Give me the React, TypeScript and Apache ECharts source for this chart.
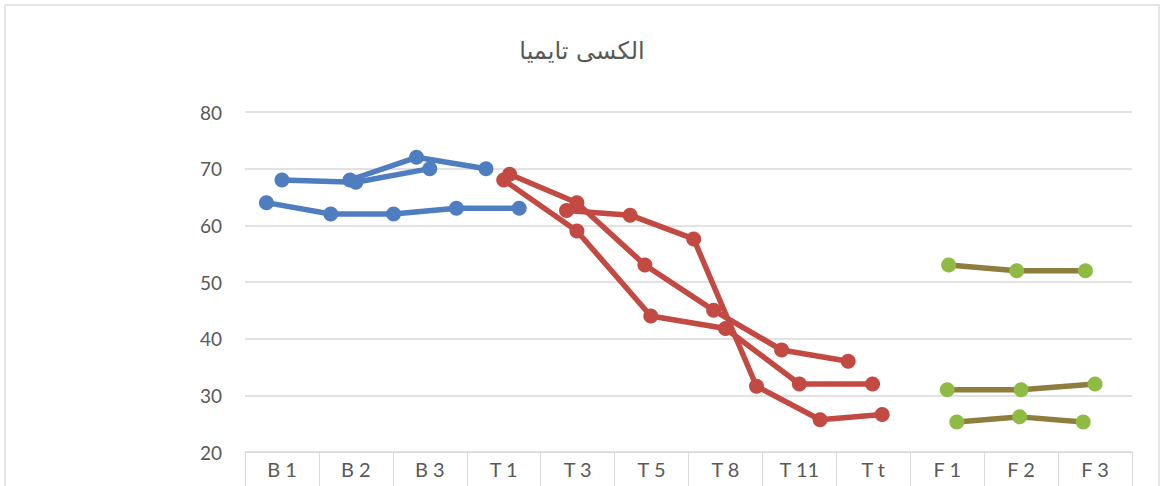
import React, { useEffect, useRef } from "react";
import * as echarts from "echarts";

const TITLE = "الکسی تایمیا";
const categories = ["B 1", "B 2", "B 3", "T 1", "T 3", "T 5", "T 8", "T 11", "T t", "F 1", "F 2", "F 3"];
const yMin = 20;
const yMax = 80;
const yStep = 10;

// x positions are in category units (category i spans i..i+1)
const blueA_x = [0.29, 1.16, 2.01, 2.86, 3.71];
const blueA_y = [64, 62, 62, 63, 63];
const blueB_x = [0.5, 1.5, 2.5];
const blueB_y = [68, 67.6, 70];
const blueC_x = [1.42, 2.32, 3.26];
const blueC_y = [68, 72, 70];

const redA_x = [3.5, 4.49, 5.49, 6.5, 7.5, 8.49];
const redA_y = [68, 59, 44, 41.8, 32, 32];
const redB_x = [3.58, 4.49, 5.41, 6.34, 7.26, 8.16];
const redB_y = [69, 64, 53, 45, 38, 36];
const redC_x = [4.35, 5.21, 6.07, 6.92, 7.78, 8.62];
const redC_y = [62.6, 61.8, 57.6, 31.6, 25.7, 26.6];

const greenA_x = [9.5, 10.5, 11.5];
const greenA_y = [31, 31, 32];
const greenB_x = [9.52, 10.44, 11.37];
const greenB_y = [53, 52, 52];
const greenC_x = [9.63, 10.48, 11.34];
const greenC_y = [25.3, 26.2, 25.3];

const BLUE = "#4f7ec0";
const RED = "#c24a42";
const OLIVE = "#8e7d3e";
const GREEN_MK = "#8fbb44";

function zip(xs: number[], ys: number[]) {
  return xs.map((x, i) => [x, ys[i]]);
}

function mk(name: string, xs: number[], ys: number[], line: string, marker: string) {
  return {
    name,
    type: "line",
    xAxisIndex: 1,
    data: zip(xs, ys),
    symbol: "circle",
    symbolSize: 15,
    showSymbol: true,
    lineStyle: { color: line, width: 5.5 },
    itemStyle: { color: marker, borderWidth: 0 },
    emphasis: { disabled: true },
    z: 3,
  };
}

export default function App() {
  const ref = useRef<HTMLDivElement>(null);
  useEffect(() => {
    if (!ref.current) return;
    const chart = echarts.init(ref.current, undefined, { renderer: "svg" });
    const labelFont = "Lato, 'Open Sans', 'DejaVu Sans', sans-serif";
    chart.setOption({
      animation: false,
      backgroundColor: "#ffffff",
      title: {
        text: TITLE,
        left: "center",
        top: 34,
        textStyle: {
          fontFamily: "'DejaVu Serif', 'DejaVu Sans', serif",
          fontSize: 24,
          fontWeight: "normal",
          color: "#595959",
        },
      },
      graphic: [
        {
          type: "rect",
          shape: { x: 5, y: 5, width: 1154, height: 500 },
          style: { fill: "none", stroke: "#dedede", lineWidth: 1.5 },
          silent: true,
          z: -1,
        },
      ],
      grid: { left: 245, right: 32, top: 112, bottom: 34 },
      xAxis: [
        {
          type: "category",
          data: categories,
          boundaryGap: true,
          position: "bottom",
          axisLine: { show: true, lineStyle: { color: "#d9d9d9", width: 1 } },
          axisTick: { show: true, interval: 0, length: 40, lineStyle: { color: "#d9d9d9", width: 1 } },
          axisLabel: {
            interval: 0,
            margin: 7,
            color: "#595959",
            fontSize: 20,
            fontFamily: labelFont,
          },
          splitLine: { show: false },
        },
        {
          type: "value",
          min: 0,
          max: 12,
          show: false,
          splitLine: { show: false },
        },
      ],
      yAxis: {
        type: "value",
        min: yMin,
        max: yMax,
        interval: yStep,
        axisLine: { show: false },
        axisTick: { show: false },
        axisLabel: { color: "#595959", fontSize: 19, margin: 23, fontFamily: labelFont },
        splitLine: { show: true, lineStyle: { color: "#d9d9d9", width: 1.5 } },
      },
      series: [
        mk("blueA", blueA_x, blueA_y, BLUE, BLUE),
        mk("blueB", blueB_x, blueB_y, BLUE, BLUE),
        mk("blueC", blueC_x, blueC_y, BLUE, BLUE),
        mk("redA", redA_x, redA_y, RED, RED),
        mk("redB", redB_x, redB_y, RED, RED),
        mk("redC", redC_x, redC_y, RED, RED),
        mk("greenA", greenA_x, greenA_y, OLIVE, GREEN_MK),
        mk("greenB", greenB_x, greenB_y, OLIVE, GREEN_MK),
        mk("greenC", greenC_x, greenC_y, OLIVE, GREEN_MK),
      ],
    });
    return () => chart.dispose();
  }, []);
  return (
    <div
      ref={ref}
      style={{ position: "absolute", left: 0, top: 0, width: 1164, height: 486 }}
    />
  );
}
